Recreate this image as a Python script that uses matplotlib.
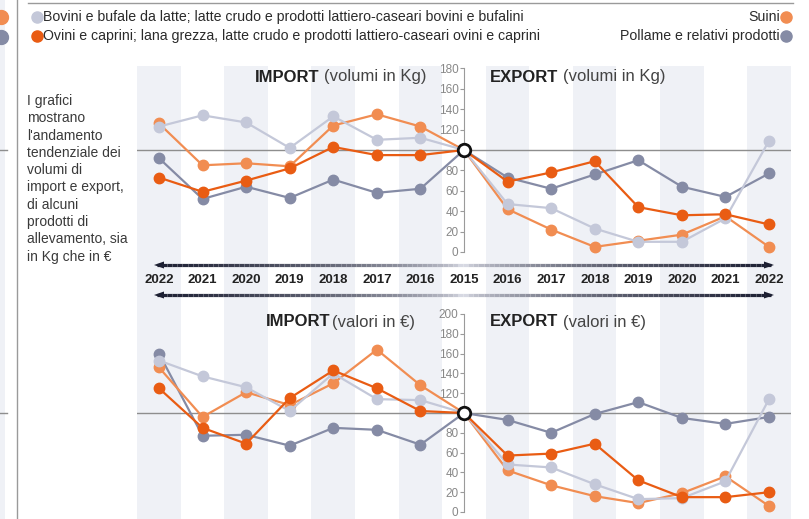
import numpy as np
import matplotlib
matplotlib.use("Agg")
import matplotlib.pyplot as plt
from matplotlib import font_manager as fm
from matplotlib.collections import LineCollection
from matplotlib.colors import to_rgb

names = {f.name for f in fm.fontManager.ttflist}
COND = "Liberation Sans Narrow" if "Liberation Sans Narrow" in names else "Liberation Sans"
plt.rcParams["font.family"] = [COND, "DejaVu Sans"]

years = ["2022", "2021", "2020", "2019", "2018", "2017", "2016", "2015",
         "2016", "2017", "2018", "2019", "2020", "2021", "2022"]

# volumi in Kg (2015 = 100): import 2022..2016, 2015, export 2016..2022
kg_bovini = [123, 134, 127, 102, 133, 110, 112, 100, 47, 43, 23, 10, 10, 33, 109]
kg_suini = [126, 85, 87, 84, 124, 135, 123, 100, 42, 22, 5, 11, 17, 35, 5]
kg_ovini = [73, 59, 70, 82, 103, 95, 95, 100, 69, 78, 89, 44, 36, 37, 27]
kg_pollame = [92, 52, 64, 53, 71, 58, 62, 100, 73, 62, 76, 90, 64, 54, 77]

# valori in euro (2015 = 100)
eur_bovini = [153, 137, 126, 102, 140, 114, 113, 100, 48, 45, 28, 13, 14, 31, 114]
eur_suini = [146, 96, 121, 108, 130, 164, 128, 100, 42, 27, 16, 9, 19, 36, 6]
eur_ovini = [125, 85, 69, 115, 143, 125, 102, 100, 57, 59, 69, 32, 15, 15, 20]
eur_pollame = [160, 77, 78, 67, 85, 83, 68, 100, 93, 80, 99, 111, 95, 89, 96]

labels = ["Bovini e bufale da latte; latte crudo e prodotti lattiero-caseari bovini e bufalini",
          "Suini",
          "Ovini e caprini; lana grezza, latte crudo e prodotti lattiero-caseari ovini e caprini",
          "Pollame e relativi prodotti"]

C_BOV = "#c4c8d9"
C_SUI = "#f18d52"
C_OVI = "#e95c13"
C_POL = "#858ba5"
STRIPE = "#eff1f6"
GRID = "#8e8e8e"

W, H = 809, 519
X0, DX = 159, 43.57
x = np.arange(len(years))

fig = plt.figure(figsize=(W / 100, H / 100), dpi=100)

# overlay in pixel coordinates for the decorations
ov = fig.add_axes([0, 0, 1, 1], zorder=0)
ov.set_xlim(0, W)
ov.set_ylim(H, 0)
ov.axis("off")

for i in range(0, 15, 2):
    ov.axvspan(X0 + DX * (i - 0.5), X0 + DX * (i + 0.5), ymin=0, ymax=1 - 66 / H, color=STRIPE, lw=0)

# bits of the neighbouring chart on the left edge
ov.axvspan(0, 5, color=STRIPE, lw=0)
ov.plot([17.5, 17.5], [0, H], color="#9a9a9a", lw=1)
ov.plot([0, 7], [150, 150], color=GRID, lw=1)
ov.plot([0, 7], [413, 413], color=GRID, lw=1)
ov.plot([1], [17], "o", color=C_SUI, ms=10)
ov.plot([1], [37], "o", color=C_POL, ms=10)

# legend
ov.plot([28, 793], [3, 3], color="#9a9a9a", lw=1)
ov.plot([37], [17], "o", color=C_BOV, ms=8)
ov.plot([37], [36], "o", color=C_OVI, ms=8)
ov.plot([786], [17], "o", color=C_SUI, ms=8)
ov.plot([786], [36], "o", color=C_POL, ms=8)
ov.text(43, 17, labels[0], fontsize=10.2, color="#2a2a2a", va="center")
ov.text(43, 36, labels[2], fontsize=10.2, color="#2a2a2a", va="center")
ov.text(780, 17, labels[1], fontsize=10.2, color="#2a2a2a", va="center", ha="right")
ov.text(780, 36, labels[3], fontsize=10.2, color="#2a2a2a", va="center", ha="right")

intro = ["I grafici", "mostrano", "l'andamento", "tendenziale dei", "volumi di",
         "import e export,", "di alcuni", "prodotti di", "allevamento, sia", "in Kg che in €"]
for k, line in enumerate(intro):
    ov.text(27, 101 + 17.3 * k, line, fontsize=10, color="#3a3a3a", va="center")

# panel titles
ov.text(255, 77, "IMPORT", fontsize=12, fontweight="bold", color="#222", va="center")
ov.text(324, 77, "(volumi in Kg)", fontsize=12, color="#444", va="center")
ov.text(490, 77, "EXPORT", fontsize=12, fontweight="bold", color="#222", va="center")
ov.text(563, 77, "(volumi in Kg)", fontsize=12, color="#444", va="center")
ov.text(266, 322, "IMPORT", fontsize=12, fontweight="bold", color="#222", va="center")
ov.text(332, 322, "(valori in €)", fontsize=12, color="#444", va="center")
ov.text(490, 322, "EXPORT", fontsize=12, fontweight="bold", color="#222", va="center")
ov.text(563, 322, "(valori in €)", fontsize=12, color="#444", va="center")

# year labels
for i, yr in enumerate(years):
    ov.text(X0 + DX * i, 280, yr, fontsize=9.5, fontweight="bold", color="#222",
            ha="center", va="center")


def gradient_arrow(x_start, x_end, y):
    n = 60
    xs = np.linspace(x_start, x_end, n + 1)
    segs = [[(xs[k], y), (xs[k + 1], y)] for k in range(n)]
    c0, c1 = np.array(to_rgb("#d6d8e2")), np.array(to_rgb("#1b1e31"))
    cols = [c0 + (c1 - c0) * (k / n) ** 0.6 for k in range(n)]
    ov.add_collection(LineCollection(segs, colors=cols, linewidths=2.3))
    d = np.sign(x_end - x_start)
    ov.fill([x_end + d * 3, x_end - d * 7, x_end - d * 7], [y, y - 3.5, y + 3.5], color="#1b1e31", lw=0)


for yy in (265, 295):
    gradient_arrow(463, X0 - 2, yy)
    gradient_arrow(463, X0 + DX * 14 + 2, yy)


def panel(rect, ylim, top, series):
    ax = fig.add_axes(rect, zorder=1)
    ax.set_facecolor("none")
    ax.set_xlim(-0.5, 14.5)
    ax.set_ylim(*ylim)
    for s in ("top", "right", "bottom"):
        ax.spines[s].set_visible(False)
    ax.spines["left"].set_position(("data", 7))
    ax.spines["left"].set_bounds(0, top)
    ax.spines["left"].set_color("#9a9a9a")
    ticks = [t for t in range(0, top + 1, 20) if t != 100]
    ax.set_yticks(ticks)
    ax.set_yticklabels([str(t) for t in ticks])
    ax.tick_params(axis="y", length=3, width=0.8, color="#9a9a9a", labelsize=8.5,
                   labelcolor="#888888", pad=1)
    ax.set_xticks([])
    ax.axhline(100, color=GRID, lw=1, zorder=1)
    for vals, col in series:
        ax.plot(x, vals, "-o", color=col, lw=1.6, ms=7.5, zorder=3)
    ax.plot([7], [100], "o", ms=9, mfc="white", mec="#111111", mew=2, zorder=6)
    return ax


fy = lambda py: 1 - py / H
ax_kg = panel([137.2 / W, fy(262.2), 653.6 / W, (262.2 - 63.3) / H], (-10, 185), 180,
              [(kg_pollame, C_POL), (kg_suini, C_SUI), (kg_bovini, C_BOV), (kg_ovini, C_OVI)])
ax_eur = panel([137.2 / W, fy(516.95), 653.6 / W, (516.95 - 309.05) / H], (-5, 205), 200,
               [(eur_pollame, C_POL), (eur_suini, C_SUI), (eur_bovini, C_BOV), (eur_ovini, C_OVI)])

fig.savefig("out.png", dpi=100)
